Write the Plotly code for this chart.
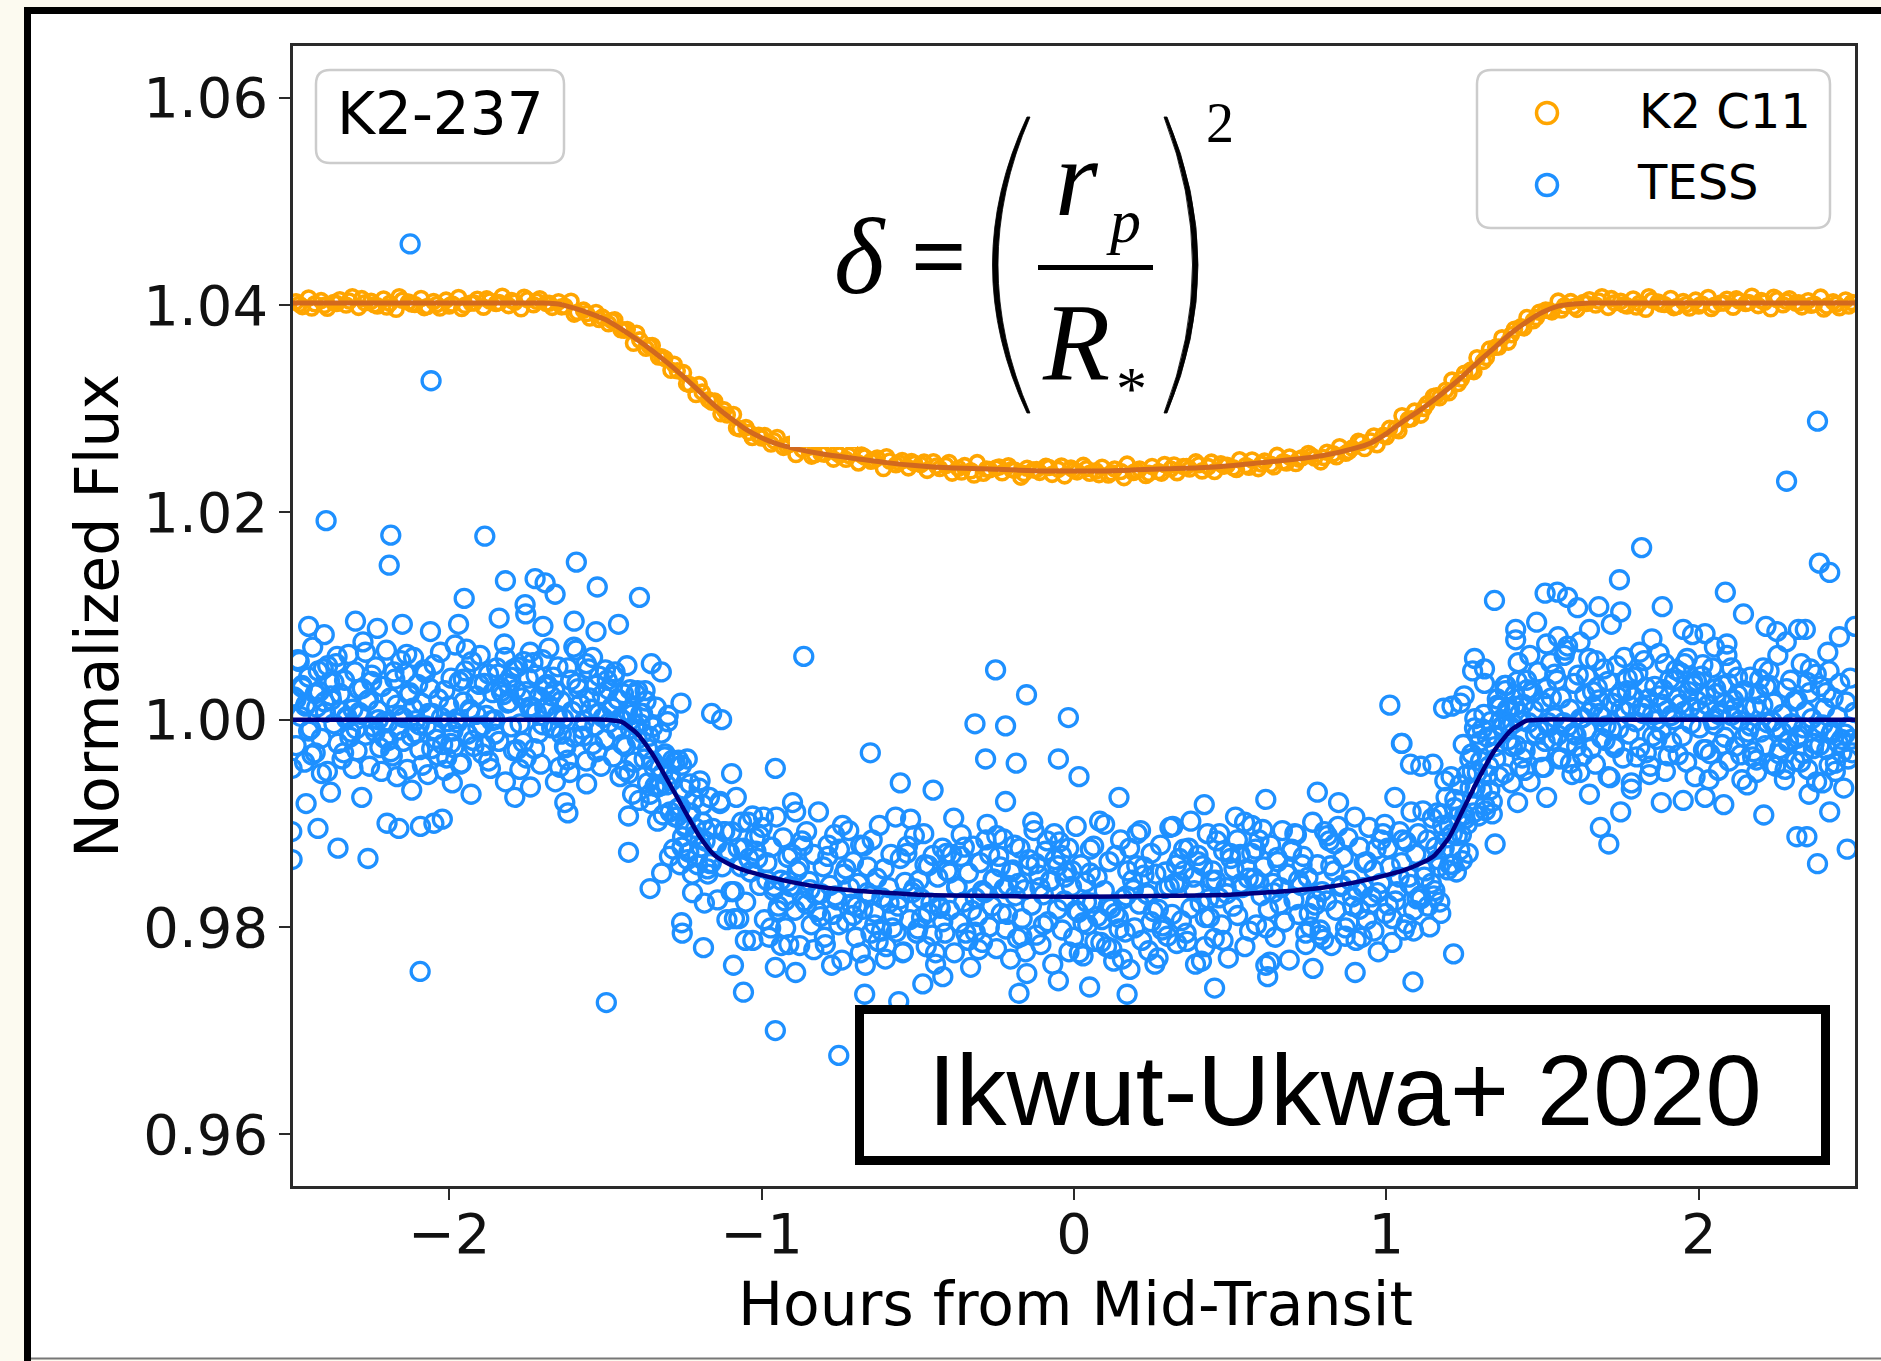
import plotly.graph_objects as go

# ---------------------------------------------------------------- data
# K2 Campaign 11 photometry (offset by +0.04), hours from mid-transit vs flux
k2_obs_a = [(-2.49,1.04032),(-2.47,1.03985),(-2.45,1.04068),(-2.43,1.04013),(-2.41,1.04043),(-2.39,1.03969),(-2.37,1.04025),(-2.35,1.04051),(-2.33,1.04001),(-2.31,1.04080),
(-2.29,1.03978),(-2.27,1.04022),(-2.25,1.04037),(-2.23,1.03992),(-2.21,1.04059),(-2.19,1.04017),(-2.17,1.03960),(-2.15,1.04046),(-2.13,1.04029),(-2.11,1.04006),
(-2.09,1.04064),(-2.07,1.03987),(-2.05,1.04035),(-2.03,1.03972),(-2.01,1.04048),(-1.99,1.04011),(-1.97,1.04073),(-1.95,1.03998),(-1.93,1.04020),(-1.91,1.04056),
(-1.89,1.03980),(-1.87,1.04039),(-1.85,1.04015),(-1.83,1.04085),(-1.81,1.03995),(-1.79,1.04028),(-1.77,1.03965),(-1.75,1.04053),(-1.73,1.04003),(-1.71,1.04061),
(-1.69,1.04017),(-1.67,1.03978),(-1.65,1.04032),(-1.63,1.03988),(-1.61,1.04037),(-1.59,1.03930),(-1.57,1.03951),(-1.55,1.03875),(-1.53,1.03929),(-1.51,1.03884),
(-1.49,1.03820),(-1.47,1.03857),(-1.45,1.03762),(-1.43,1.03765),(-1.41,1.03632),(-1.39,1.03664),(-1.37,1.03584),(-1.35,1.03610),(-1.33,1.03499),(-1.31,1.03484),
(-1.29,1.03371),(-1.27,1.03366),(-1.25,1.03348),(-1.23,1.03234),(-1.21,1.03137),(-1.19,1.03160),(-1.17,1.03086),(-1.15,1.03073),(-1.13,1.02951),(-1.11,1.02940),
(-1.09,1.02945),(-1.07,1.02806),(-1.05,1.02818),(-1.03,1.02723),(-1.01,1.02743),(-0.99,1.02740),(-0.97,1.02659),(-0.95,1.02722),(-0.93,1.02627),(-0.91,1.02657),
(-0.89,1.02558),(-0.87,1.02607),(-0.85,1.02627),(-0.83,1.02556),(-0.81,1.02568),(-0.79,1.02606),(-0.77,1.02514),(-0.75,1.02553),(-0.73,1.02512),(-0.71,1.02572),
(-0.69,1.02477),(-0.67,1.02535),(-0.65,1.02494),(-0.63,1.02524),(-0.61,1.02423),(-0.59,1.02496),(-0.57,1.02460),(-0.55,1.02500),(-0.53,1.02429),(-0.51,1.02471),
(-0.49,1.02462),(-0.47,1.02405),(-0.45,1.02488),(-0.43,1.02423),(-0.41,1.02453),(-0.39,1.02379),(-0.37,1.02425),(-0.35,1.02451),(-0.33,1.02401),(-0.31,1.02480),
(-0.29,1.02378),(-0.27,1.02412),(-0.25,1.02427),(-0.23,1.02382),(-0.21,1.02449),(-0.19,1.02407),(-0.17,1.02340),(-0.15,1.02426),(-0.13,1.02409),(-0.11,1.02386),
(-0.09,1.02444),(-0.07,1.02367),(-0.05,1.02415),(-0.03,1.02352),(-0.01,1.02428),(0.01,1.02391),(0.03,1.02453),(0.05,1.02378),(0.07,1.02400),(0.09,1.02436),
(0.11,1.02360),(0.13,1.02419),(0.15,1.02395),(0.17,1.02465),(0.19,1.02385),(0.21,1.02418),(0.23,1.02355),(0.25,1.02443),(0.27,1.02393),(0.29,1.02461),
(0.31,1.02419),(0.33,1.02383),(0.35,1.02442),(0.37,1.02418),(0.39,1.02487),(0.41,1.02400),(0.43,1.02441),(0.45,1.02395),(0.47,1.02469),(0.49,1.02454),
(0.51,1.02430),(0.53,1.02507),(0.55,1.02452),(0.57,1.02505),(0.59,1.02422),(0.61,1.02494),(0.63,1.02464),(0.65,1.02550),(0.67,1.02489),(0.69,1.02534),
(0.71,1.02471),(0.73,1.02526),(0.75,1.02568),(0.77,1.02524),(0.79,1.02487),(0.81,1.02580),(0.83,1.02566),(0.85,1.02633),(0.87,1.02571),(0.89,1.02620),
(0.91,1.02685),(0.93,1.02616),(0.95,1.02688),(0.97,1.02653),(0.99,1.02743),(1.01,1.02810),(1.03,1.02809),(1.05,1.02932),(1.07,1.02897),(1.09,1.02977),
(1.11,1.02938),(1.13,1.03047),(1.15,1.03117),(1.17,1.03106),(1.19,1.03178),(1.21,1.03276),(1.23,1.03244),(1.25,1.03343),(1.27,1.03372),(1.29,1.03492),
(1.31,1.03457),(1.33,1.03575),(1.35,1.03594),(1.37,1.03684),(1.39,1.03643),(1.41,1.03766),(1.43,1.03790),(1.45,1.03880),(1.47,1.03849),(1.49,1.03931),
(1.51,1.03952),(1.53,1.03935),(1.55,1.04038),(1.57,1.03993),(1.59,1.04033),(1.61,1.03959),(1.63,1.04025),(1.65,1.04051),(1.67,1.04001),(1.69,1.04080),
(1.71,1.03978),(1.73,1.04022),(1.75,1.04037),(1.77,1.03992),(1.79,1.04059),(1.81,1.04017),(1.83,1.03960),(1.85,1.04046),(1.87,1.04029),(1.89,1.04006),
(1.91,1.04064),(1.93,1.03987),(1.95,1.04035),(1.97,1.03972),(1.99,1.04048),(2.01,1.04011),(2.03,1.04073),(2.05,1.03998),(2.07,1.04020),(2.09,1.04056),
(2.11,1.03980),(2.13,1.04039),(2.15,1.04015),(2.17,1.04085),(2.19,1.03995),(2.21,1.04028),(2.23,1.03965),(2.25,1.04053),(2.27,1.04003),(2.29,1.04061),
(2.31,1.04019),(2.33,1.03983),(2.35,1.04042),(2.37,1.04008),(2.39,1.04077),(2.41,1.03990),(2.43,1.04031),(2.45,1.03975),(2.47,1.04049),(2.49,1.04024)]

k2_obs_b = [(-2.48,1.04008),(-2.44,1.03972),(-2.40,1.03997),(-2.36,1.04015),(-2.32,1.04039),(-2.28,1.04062),(-2.24,1.04003),(-2.20,1.03981),(-2.16,1.04080),(-2.12,1.04011),
(-2.08,1.03976),(-2.04,1.04005),(-2.00,1.03992),(-1.96,1.03967),(-1.92,1.04020),(-1.88,1.04060),(-1.84,1.04025),(-1.80,1.04045),(-1.76,1.04075),(-1.72,1.04037),
(-1.68,1.04018),(-1.64,1.03983),(-1.60,1.03913),(-1.56,1.03919),(-1.52,1.03861),(-1.48,1.03850),(-1.44,1.03758),(-1.40,1.03728),(-1.36,1.03606),(-1.32,1.03501),
(-1.28,1.03429),(-1.24,1.03242),(-1.20,1.03233),(-1.16,1.03064),(-1.12,1.02989),(-1.08,1.02815),(-1.04,1.02772),(-1.00,1.02717),(-0.96,1.02691),(-0.92,1.02643),
(-0.88,1.02662),(-0.84,1.02543),(-0.80,1.02562),(-0.76,1.02576),(-0.72,1.02548),(-0.68,1.02553),(-0.64,1.02506),(-0.60,1.02537),(-0.56,1.02480),(-0.52,1.02491),
(-0.48,1.02485),(-0.44,1.02447),(-0.40,1.02481),(-0.36,1.02389),(-0.32,1.02360),(-0.28,1.02418),(-0.24,1.02438),(-0.20,1.02413),(-0.16,1.02374),(-0.12,1.02414),
(-0.08,1.02433),(-0.04,1.02448),(0.00,1.02409),(0.04,1.02422),(0.08,1.02364),(0.12,1.02381),(0.16,1.02335),(0.20,1.02402),(0.24,1.02377),(0.28,1.02379),
(0.32,1.02457),(0.36,1.02442),(0.40,1.02460),(0.44,1.02485),(0.48,1.02446),(0.52,1.02413),(0.56,1.02435),(0.60,1.02466),(0.64,1.02440),(0.68,1.02476),
(0.72,1.02514),(0.76,1.02546),(0.80,1.02530),(0.84,1.02537),(0.88,1.02590),(0.92,1.02674),(0.96,1.02737),(1.00,1.02730),(1.04,1.02788),(1.08,1.02903),
(1.12,1.03003),(1.16,1.03124),(1.20,1.03154),(1.24,1.03287),(1.28,1.03358),(1.32,1.03495),(1.36,1.03596),(1.40,1.03714),(1.44,1.03780),(1.48,1.03879),
(1.52,1.03948),(1.56,1.03952),(1.60,1.03987),(1.64,1.04015),(1.68,1.04039),(1.72,1.04062),(1.76,1.04003),(1.80,1.03981),(1.84,1.04080),(1.88,1.04011),
(1.92,1.03976),(1.96,1.04005),(2.00,1.03992),(2.04,1.03967),(2.08,1.04020),(2.12,1.04060),(2.16,1.04025),(2.20,1.04045),(2.24,1.04075),(2.28,1.04037),
(2.32,1.04021),(2.36,1.03998),(2.40,1.03963),(2.44,1.04009),(2.48,1.03991)]

# K2 best-fit transit model
k2_model_hours = [-2.5, -1.75, -1.70, -1.65, -1.60, -1.55, -1.50, -1.45, -1.40, -1.35,
                  -1.30, -1.25, -1.20, -1.15, -1.10, -1.05, -1.00, -0.95, -0.90, -0.80,
                  -0.70, -0.60, -0.50, -0.40, -0.30, -0.20, -0.10, 0.0, 0.10, 0.20,
                  0.30, 0.40, 0.50, 0.60, 0.70, 0.80, 0.90, 0.95, 1.00, 1.05,
                  1.10, 1.15, 1.20, 1.25, 1.30, 1.35, 1.40, 1.45, 1.50, 1.55,
                  1.60, 1.65, 1.70, 2.5]
k2_model_flux = [1.0402, 1.0402, 1.0402, 1.0401, 1.0397, 1.0392, 1.0386, 1.0377, 1.0367, 1.0356,
                 1.0344, 1.0331, 1.0317, 1.0303, 1.0291, 1.0280, 1.0272, 1.0266, 1.0262, 1.0256,
                 1.0252, 1.0248, 1.0245, 1.0243, 1.0242, 1.0241, 1.0240, 1.0240, 1.0240, 1.0241,
                 1.0242, 1.0243, 1.0245, 1.0248, 1.0251, 1.0255, 1.0262, 1.0267, 1.0276, 1.0287,
                 1.0297, 1.0308, 1.0320, 1.0333, 1.0347, 1.0360, 1.0373, 1.0384, 1.0393, 1.0399,
                 1.0401, 1.0402, 1.0402, 1.0402]

# TESS photometry: pre-transit baseline
tess_pre_a = [(-2.497,1.0022),(-2.490,0.9975),(-2.484,1.0058),(-2.476,1.0003),(-2.471,1.0033),(-2.463,0.9959),(-2.458,1.0015),(-2.450,1.0041),(-2.443,0.9991),(-2.437,1.0070),
(-2.429,0.9968),(-2.424,1.0012),(-2.416,1.0027),(-2.410,0.9982),(-2.403,1.0049),(-2.396,1.0007),(-2.390,0.9950),(-2.382,1.0036),(-2.377,1.0019),(-2.369,0.9996),
(-2.362,1.0054),(-2.356,0.9977),(-2.349,1.0025),(-2.343,0.9962),(-2.335,1.0038),(-2.329,1.0001),(-2.322,1.0063),(-2.316,0.9988),(-2.308,1.0010),(-2.302,1.0046),
(-2.295,0.9970),(-2.289,1.0029),(-2.281,1.0005),(-2.276,1.0075),(-2.268,0.9985),(-2.262,1.0018),(-2.255,0.9955),(-2.248,1.0043),(-2.242,0.9993),(-2.235,1.0051),
(-2.228,1.0009),(-2.222,0.9973),(-2.215,1.0032),(-2.208,0.9998),(-2.201,1.0067),(-2.195,0.9980),(-2.188,1.0021),(-2.182,0.9965),(-2.174,1.0039),(-2.168,1.0014),
(-2.161,0.9990),(-2.155,1.0057),(-2.147,1.0002),(-2.141,1.0045),(-2.134,0.9952),(-2.128,1.0024),(-2.121,0.9984),(-2.114,1.0060),(-2.108,0.9999),(-2.101,1.0034),
(-2.094,0.9971),(-2.088,1.0016),(-2.081,1.0048),(-2.074,0.9994),(-2.068,0.9947),(-2.061,1.0030),(-2.054,1.0006),(-2.048,1.0053),(-2.041,0.9981),(-2.034,1.0020),
(-2.028,1.0065),(-2.021,0.9976),(-2.014,1.0028),(-2.008,0.9963),(-2.001,1.0013),(-1.994,1.0040),(-1.988,0.9989),(-1.981,1.0072),(-1.974,0.9997),(-1.968,1.0037),
(-1.961,0.9958),(-1.954,1.0017),(-1.948,1.0047),(-1.941,0.9986),(-1.934,1.0008),(-1.928,1.0056),(-1.921,0.9974),(-1.914,1.0023),(-1.908,0.9992),(-1.901,1.0062),
(-1.894,0.9967),(-1.888,1.0035),(-1.881,1.0004),(-1.874,1.0044),(-1.868,0.9953),(-1.861,1.0026),(-1.854,1.0000),(-1.848,1.0050),(-1.841,0.9979),(-1.834,1.0031),
(-1.827,1.0024),(-1.821,1.0060),(-1.814,1.0035),(-1.807,1.0017),(-1.801,0.9993),(-1.794,0.9970),(-1.787,1.0029),(-1.781,1.0051),(-1.774,0.9952),(-1.767,1.0021),
(-1.761,1.0056),(-1.754,1.0027),(-1.747,1.0040),(-1.741,1.0065),(-1.734,1.0012),(-1.727,0.9972),(-1.721,1.0007),(-1.714,0.9987),(-1.707,0.9957),(-1.701,0.9995),
(-1.694,1.0011),(-1.687,1.0034),(-1.681,1.0069),(-1.674,1.0023),(-1.667,1.0041),(-1.661,0.9992),(-1.654,1.0004),(-1.647,0.9954),(-1.641,0.9986),(-1.634,1.0001),
(-1.627,0.9973),(-1.621,1.0050),(-1.614,0.9949),(-1.607,1.0008),(-1.601,0.9983),(-1.594,1.0067),(-1.587,1.0030),(-1.581,1.0015),(-1.574,0.9991),(-1.567,0.9999),
(-1.561,0.9960),(-1.554,1.0049),(-1.547,1.0010),(-1.541,0.9976),(-1.534,0.9994),(-1.527,0.9969),(-1.521,1.0006),(-1.514,0.9955),(-1.507,1.0002),(-1.501,0.9981),
(-1.494,1.0038),(-1.488,0.9997)]

tess_pre_b = [(-2.490,1.0020),(-2.480,1.0056),(-2.470,1.0031),(-2.460,1.0013),(-2.450,0.9989),(-2.439,0.9966),(-2.429,1.0025),(-2.419,1.0047),(-2.409,0.9948),(-2.399,1.0017),
(-2.389,1.0052),(-2.379,1.0023),(-2.369,1.0036),(-2.359,1.0061),(-2.349,1.0008),(-2.338,0.9968),(-2.328,1.0003),(-2.318,0.9983),(-2.308,0.9953),(-2.298,0.9991),
(-2.288,1.0007),(-2.278,1.0030),(-2.268,1.0065),(-2.258,1.0019),(-2.248,1.0037),(-2.237,0.9988),(-2.227,1.0000),(-2.217,0.9950),(-2.207,0.9982),(-2.197,0.9997),
(-2.187,0.9969),(-2.177,1.0046),(-2.167,0.9945),(-2.157,1.0004),(-2.147,0.9979),(-2.136,1.0063),(-2.126,1.0026),(-2.116,1.0011),(-2.106,0.9987),(-2.096,0.9995),
(-2.086,0.9956),(-2.076,1.0045),(-2.066,1.0006),(-2.056,0.9972),(-2.046,0.9990),(-2.035,0.9965),(-2.025,1.0002),(-2.015,0.9951),(-2.005,0.9998),(-1.995,0.9977),
(-1.985,0.9973),(-1.975,1.0001),(-1.965,0.9957),(-1.955,1.0039),(-1.945,1.0068),(-1.934,1.0010),(-1.924,0.9980),(-1.914,1.0005),(-1.904,1.0034),(-1.894,0.9994),
(-1.884,0.9975),(-1.874,0.9960),(-1.864,0.9999),(-1.854,0.9986),(-1.844,1.0044),(-1.833,1.0027),(-1.823,1.0073),(-1.813,1.0016),(-1.803,1.0041),(-1.793,1.0049),
(-1.783,0.9971),(-1.773,0.9996),(-1.763,0.9978),(-1.753,0.9963),(-1.743,1.0012),(-1.732,1.0055),(-1.722,1.0043),(-1.712,1.0022),(-1.702,1.0058),(-1.692,1.0032),
(-1.682,1.0014),(-1.672,0.9992),(-1.662,1.0028),(-1.652,1.0051),(-1.642,1.0018),(-1.631,0.9974),(-1.621,0.9961),(-1.611,1.0038),(-1.601,1.0070),(-1.591,1.0035),
(-1.581,1.0015),(-1.571,0.9984),(-1.561,1.0054),(-1.551,1.0021),(-1.541,1.0060),(-1.530,1.0033),(-1.520,1.0042),(-1.510,1.0024),(-1.500,1.0048),(-1.490,1.0029)]

tess_pre_c = [(-2.394,1.0192),(-2.187,1.0178),(-2.192,1.0149),(-1.886,1.0177),(-1.593,1.0152),(-1.820,1.0134),(-1.725,1.0136),(-1.693,1.0132),(-1.661,1.0121),(-1.757,1.0111),
(-1.755,1.0102),(-1.526,1.0128),(-1.952,1.0117),(-1.458,1.0092),(-2.125,1.0459),(-2.058,1.0327),(-2.458,0.9919),(-2.420,0.9895),(-2.356,0.9876),(-2.260,0.9866),
(-2.199,0.9900),(-2.161,0.9895),(-2.092,0.9897),(-2.049,0.9900),(-2.022,0.9904),(-2.093,0.9757),(-1.497,0.9727),(-1.990,0.9939),(-1.820,0.9940),(-1.790,0.9925),
(-1.660,0.9940),(-1.630,0.9920),(-1.620,0.9910),(-2.450,1.0090),(-2.300,1.0095),(-2.230,1.0088),(-2.060,1.0085),(-1.970,1.0092),(-1.840,1.0098),(-1.700,1.0090),
(-1.600,1.0095),(-1.530,1.0085),(-2.400,1.0082),(-2.150,1.0092),(-2.380,0.9930),(-2.280,0.9925),(-2.120,0.9932),(-1.930,0.9928),(-1.740,0.9935),(-1.560,0.9938),
(-2.503,0.9953),(-2.504,0.9892),(-2.503,0.9865)]

# TESS photometry: ingress
tess_ing_a = [(-1.480,1.0012),(-1.475,0.9964),(-1.469,1.0046),(-1.464,0.9990),(-1.458,1.0019),(-1.453,0.9945),(-1.447,1.0000),(-1.442,1.0025),(-1.436,0.9974),(-1.431,1.0052),
(-1.425,0.9948),(-1.420,0.9991),(-1.414,1.0005),(-1.409,0.9959),(-1.403,1.0025),(-1.398,0.9981),(-1.392,0.9922),(-1.387,1.0006),(-1.381,0.9987),(-1.376,0.9962),
(-1.370,1.0018),(-1.365,0.9939),(-1.359,0.9984),(-1.354,0.9919),(-1.348,0.9993),(-1.343,0.9953),(-1.337,1.0012),(-1.332,0.9935),(-1.326,0.9954),(-1.321,0.9987),
(-1.315,0.9908),(-1.310,0.9964),(-1.304,0.9937),(-1.299,1.0004),(-1.293,0.9911),(-1.288,0.9941),(-1.282,0.9875),(-1.277,0.9959),(-1.271,0.9906),(-1.266,0.9961),
(-1.260,0.9916),(-1.255,0.9877),(-1.249,0.9933),(-1.244,0.9896),(-1.238,0.9962),(-1.233,0.9872),(-1.227,0.9910),(-1.222,0.9851),(-1.216,0.9923),(-1.211,0.9895),
(-1.205,0.9869),(-1.200,0.9934),(-1.194,0.9877),(-1.189,0.9918),(-1.183,0.9823),(-1.178,0.9893),(-1.172,0.9851),(-1.167,0.9925),(-1.161,0.9862),(-1.156,0.9895)]

tess_ing_b = [(-1.477,1.0011),(-1.472,1.0042),(-1.461,1.0020),(-1.453,1.0001),(-1.445,0.9976),(-1.437,0.9951),(-1.429,1.0008),(-1.421,1.0029),(-1.413,0.9928),(-1.405,0.9995),
(-1.397,1.0028),(-1.389,0.9996),(-1.381,1.0006),(-1.373,1.0028),(-1.365,0.9972),(-1.357,0.9928),(-1.349,0.9960),(-1.341,0.9936),(-1.333,0.9902),(-1.325,0.9936),
(-1.317,0.9948),(-1.309,0.9967),(-1.301,0.9998),(-1.293,0.9947),(-1.285,0.9961),(-1.277,0.9906),(-1.269,0.9914),(-1.261,0.9860),(-1.253,0.9887),(-1.245,0.9898),
(-1.237,0.9865),(-1.229,0.9938),(-1.221,0.9833),(-1.213,0.9888),(-1.205,0.9860),(-1.197,0.9941),(-1.189,0.9901),(-1.181,0.9883),(-1.173,0.9856),(-1.165,0.9861)]

tess_ing_c = [(-1.391,1.0118),(-1.353,1.0054),(-1.321,1.0046),(-1.258,1.0016),(-1.160,1.0006),(-1.128,1.0000),(-1.096,0.9948),(-1.256,0.9956),(-1.426,0.9872),(-1.357,0.9837),
(-1.320,0.9852),(-1.295,0.9868),(-1.256,0.9804),(-1.254,0.9794),(-1.186,0.9780),(-1.090,0.9763),(-1.058,0.9737),(-0.956,0.9700),(-0.956,0.9761),(-0.891,0.9756),
(-0.913,0.9783),(-1.426,0.9907),(-0.956,0.9953),(-0.865,1.0061)]

# TESS photometry: in transit
tess_in_a = [(-1.148,0.9880),(-1.141,0.9826),(-1.133,0.9921),(-1.126,0.9858),(-1.118,0.9892),(-1.111,0.9807),(-1.103,0.9872),(-1.096,0.9892),(-1.088,0.9834),(-1.081,0.9925),
(-1.073,0.9808),(-1.066,0.9858),(-1.058,0.9876),(-1.051,0.9824),(-1.043,0.9901),(-1.036,0.9853),(-1.028,0.9787),(-1.021,0.9886),(-1.013,0.9866),(-1.006,0.9840),
(-0.998,0.9896),(-0.991,0.9807),(-0.983,0.9862),(-0.976,0.9790),(-0.968,0.9877),(-0.961,0.9835),(-0.953,0.9906),(-0.946,0.9820),(-0.938,0.9845),(-0.931,0.9886),
(-0.923,0.9799),(-0.916,0.9867),(-0.908,0.9839),(-0.901,0.9920),(-0.893,0.9816),(-0.886,0.9854),(-0.878,0.9782),(-0.871,0.9883),(-0.863,0.9825),(-0.856,0.9892),
(-0.848,0.9844),(-0.841,0.9802),(-0.833,0.9870),(-0.826,0.9831),(-0.818,0.9911),(-0.811,0.9810),(-0.803,0.9858),(-0.796,0.9783),(-0.788,0.9868),(-0.781,0.9840),
(-0.773,0.9812),(-0.766,0.9889),(-0.758,0.9826),(-0.751,0.9875),(-0.743,0.9768),(-0.736,0.9851),(-0.728,0.9805),(-0.721,0.9893),(-0.713,0.9822),(-0.706,0.9863),
(-0.698,0.9790),(-0.691,0.9842),(-0.683,0.9879),(-0.676,0.9817),(-0.668,0.9763),(-0.661,0.9858),(-0.653,0.9830),(-0.646,0.9884),(-0.638,0.9802),(-0.631,0.9847),
(-0.623,0.9898),(-0.616,0.9796),(-0.608,0.9856),(-0.601,0.9781),(-0.593,0.9838),(-0.586,0.9870),(-0.578,0.9811),(-0.571,0.9906),(-0.563,0.9820),(-0.556,0.9866),
(-0.548,0.9775),(-0.541,0.9843),(-0.533,0.9878),(-0.526,0.9807),(-0.518,0.9833),(-0.511,0.9888),(-0.503,0.9794),(-0.496,0.9845),(-0.488,0.9809),(-0.481,0.9890),
(-0.473,0.9781),(-0.466,0.9859),(-0.458,0.9823),(-0.451,0.9869),(-0.443,0.9764),(-0.436,0.9848),(-0.428,0.9818),(-0.421,0.9876),(-0.413,0.9794),(-0.406,0.9854),
(-0.398,0.9816),(-0.391,0.9870),(-0.383,0.9775),(-0.376,0.9838),(-0.368,0.9804),(-0.361,0.9889),(-0.353,0.9824),(-0.346,0.9794),(-0.338,0.9852),(-0.331,0.9761),
(-0.323,0.9878),(-0.316,0.9828),(-0.308,0.9810),(-0.301,0.9862),(-0.293,0.9785),(-0.286,0.9833),(-0.278,0.9899),(-0.271,0.9800),(-0.263,0.9820),(-0.256,0.9846),
(-0.248,0.9779),(-0.241,0.9868),(-0.233,0.9813),(-0.226,0.9885),(-0.218,0.9798),(-0.211,0.9840),(-0.203,0.9769),(-0.196,0.9855),(-0.188,0.9830),(-0.181,0.9789),
(-0.173,0.9876),(-0.166,0.9808),(-0.158,0.9836),(-0.151,0.9755),(-0.143,0.9859),(-0.136,0.9821),(-0.128,0.9893),(-0.121,0.9792),(-0.113,0.9850),(-0.106,0.9783),
(-0.098,0.9831),(-0.091,0.9873),(-0.083,0.9805),(-0.076,0.9844),(-0.068,0.9764),(-0.061,0.9865),(-0.053,0.9817),(-0.046,0.9882),(-0.038,0.9797),(-0.031,0.9825),
(-0.023,0.9853),(-0.016,0.9776),(-0.008,0.9839),(-0.001,0.9790),(0.007,0.9897),(0.014,0.9814),(0.022,0.9860),(0.029,0.9772),(0.037,0.9843),(0.044,0.9802),
(0.052,0.9875),(0.059,0.9823),(0.067,0.9786),(0.074,0.9848),(0.082,0.9902),(0.089,0.9807),(0.097,0.9835),(0.104,0.9781),(0.112,0.9863),(0.119,0.9818),
(0.127,0.9767),(0.134,0.9869),(0.142,0.9809),(0.149,0.9884),(0.157,0.9827),(0.164,0.9795),(0.172,0.9854),(0.179,0.9759),(0.187,0.9845),(0.194,0.9799),
(0.202,0.9890),(0.209,0.9822),(0.217,0.9787),(0.224,0.9858),(0.232,0.9832),(0.239,0.9777),(0.247,0.9871),(0.254,0.9815),(0.262,0.9851),(0.269,0.9770),
(0.277,0.9879),(0.284,0.9801),(0.292,0.9837),(0.299,0.9791),(0.307,0.9896),(0.314,0.9812),(0.322,0.9842),(0.329,0.9784),(0.337,0.9866),(0.344,0.9806),
(0.352,0.9854),(0.359,0.9794),(0.367,0.9876),(0.374,0.9818),(0.382,0.9848),(0.389,0.9764),(0.397,0.9869),(0.404,0.9823),(0.412,0.9859),(0.419,0.9781),
(0.427,0.9890),(0.434,0.9809),(0.442,0.9845),(0.449,0.9789),(0.457,0.9883),(0.464,0.9828),(0.472,0.9802),(0.479,0.9873),(0.487,0.9838),(0.494,0.9770),
(0.502,0.9866),(0.509,0.9820),(0.517,0.9906),(0.524,0.9811),(0.532,0.9870),(0.539,0.9838),(0.547,0.9781),(0.554,0.9856),(0.562,0.9796),(0.569,0.9898),
(0.577,0.9847),(0.584,0.9802),(0.592,0.9884),(0.599,0.9830),(0.607,0.9858),(0.614,0.9763),(0.622,0.9817),(0.629,0.9879),(0.637,0.9842),(0.644,0.9790),
(0.652,0.9863),(0.659,0.9822),(0.667,0.9893),(0.674,0.9805),(0.682,0.9851),(0.689,0.9768),(0.697,0.9875),(0.704,0.9826),(0.712,0.9889),(0.719,0.9812),
(0.727,0.9840),(0.734,0.9868),(0.742,0.9783),(0.749,0.9848),(0.757,0.9800),(0.764,0.9901),(0.772,0.9821),(0.779,0.9860),(0.787,0.9792),(0.794,0.9834),
(0.802,0.9892),(0.809,0.9825),(0.817,0.9883),(0.824,0.9782),(0.832,0.9854),(0.839,0.9816),(0.847,0.9920),(0.854,0.9839),(0.862,0.9867),(0.869,0.9799),
(0.877,0.9886),(0.884,0.9845),(0.892,0.9820),(0.899,0.9906),(0.907,0.9835),(0.914,0.9877),(0.922,0.9790),(0.929,0.9862),(0.937,0.9807),(0.944,0.9896),
(0.952,0.9829),(0.959,0.9855),(0.967,0.9875),(0.974,0.9776),(0.982,0.9842),(0.989,0.9890),(0.997,0.9813),(1.004,0.9876),(1.012,0.9858),(1.019,0.9808),
(1.027,0.9925),(1.034,0.9834),(1.042,0.9892),(1.049,0.9862),(1.057,0.9797),(1.064,0.9882),(1.072,0.9848),(1.079,0.9911),(1.087,0.9816),(1.094,0.9870),
(1.102,0.9890),(1.109,0.9830),(1.117,0.9912),(1.124,0.9854),(1.132,0.9884),(1.139,0.9800),(1.147,0.9905)]

tess_in_b = [(-1.144,0.9880),(-1.133,0.9919),(-1.121,0.9892),(-1.110,0.9872),(-1.098,0.9834),(-1.087,0.9808),(-1.075,0.9876),(-1.064,0.9901),(-1.052,0.9787),(-1.041,0.9866),
(-1.029,0.9907),(-1.018,0.9873),(-1.006,0.9888),(-0.994,0.9906),(-0.983,0.9845),(-0.971,0.9799),(-0.960,0.9839),(-0.948,0.9816),(-0.937,0.9782),(-0.925,0.9825),
(-0.914,0.9844),(-0.902,0.9870),(-0.891,0.9911),(-0.879,0.9858),(-0.868,0.9878),(-0.856,0.9822),(-0.845,0.9836),(-0.833,0.9778),(-0.822,0.9815),(-0.810,0.9832),
(-0.799,0.9790),(-0.787,0.9879),(-0.776,0.9763),(-0.764,0.9830),(-0.753,0.9802),(-0.741,0.9898),(-0.730,0.9856),(-0.718,0.9838),(-0.707,0.9811),(-0.696,0.9820),
(-0.684,0.9775),(-0.673,0.9878),(-0.661,0.9833),(-0.650,0.9794),(-0.638,0.9814),(-0.627,0.9786),(-0.615,0.9828),(-0.604,0.9769),(-0.592,0.9823),(-0.581,0.9799),
(-0.569,0.9795),(-0.558,0.9827),(-0.546,0.9776),(-0.535,0.9871),(-0.523,0.9904),(-0.512,0.9837),(-0.500,0.9798),(-0.489,0.9827),(-0.477,0.9860),(-0.466,0.9814),
(-0.454,0.9792),(-0.443,0.9775),(-0.431,0.9820),(-0.420,0.9805),(-0.408,0.9871),(-0.397,0.9852),(-0.385,0.9905),(-0.374,0.9839),(-0.362,0.9868),(-0.351,0.9877),
(-0.339,0.9787),(-0.328,0.9816),(-0.316,0.9795),(-0.305,0.9778),(-0.293,0.9835),(-0.282,0.9884),(-0.270,0.9870),(-0.259,0.9846),(-0.247,0.9888),(-0.236,0.9858),
(-0.224,0.9837),(-0.213,0.9812),(-0.201,0.9853),(-0.190,0.9879),(-0.178,0.9842),(-0.167,0.9791),(-0.155,0.9776),(-0.144,0.9865),(-0.132,0.9901),(-0.121,0.9861),
(-0.109,0.9838),(-0.098,0.9802),(-0.086,0.9883),(-0.075,0.9845),(-0.063,0.9890),(-0.052,0.9859),(-0.040,0.9869),(-0.029,0.9848),(-0.017,0.9876),(-0.006,0.9854),
(0.006,0.9816),(0.017,0.9775),(0.029,0.9804),(0.040,0.9824),(0.052,0.9852),(0.063,0.9878),(0.075,0.9810),(0.086,0.9785),(0.098,0.9899),(0.109,0.9820),
(0.121,0.9779),(0.132,0.9813),(0.144,0.9798),(0.155,0.9769),(0.167,0.9830),(0.178,0.9876),(0.190,0.9836),(0.201,0.9859),(0.213,0.9893),(0.224,0.9850),
(0.236,0.9831),(0.247,0.9805),(0.259,0.9764),(0.270,0.9817),(0.282,0.9797),(0.293,0.9853),(0.305,0.9839),(0.316,0.9897),(0.328,0.9860),(0.339,0.9843),
(0.351,0.9875),(0.362,0.9786),(0.374,0.9902),(0.385,0.9835),(0.397,0.9863),(0.408,0.9767),(0.420,0.9809),(0.431,0.9827),(0.443,0.9854),(0.454,0.9845),
(0.466,0.9890),(0.477,0.9787),(0.489,0.9832),(0.500,0.9871),(0.512,0.9856),(0.523,0.9884),(0.535,0.9842),(0.546,0.9901),(0.558,0.9847),(0.569,0.9871),
(0.581,0.9875),(0.592,0.9843),(0.604,0.9894),(0.615,0.9799),(0.627,0.9766),(0.638,0.9833),(0.650,0.9867),(0.661,0.9838),(0.673,0.9805),(0.684,0.9851),
(0.696,0.9873),(0.707,0.9890),(0.719,0.9845),(0.730,0.9860),(0.742,0.9794),(0.753,0.9813),(0.765,0.9760),(0.776,0.9826),(0.788,0.9797),(0.799,0.9788),
(0.811,0.9888),(0.822,0.9859),(0.834,0.9880),(0.845,0.9897),(0.857,0.9840),(0.868,0.9791),(0.880,0.9805),(0.891,0.9829),(0.903,0.9787),(0.914,0.9817),
(0.926,0.9838),(0.937,0.9863),(0.949,0.9822),(0.960,0.9796),(0.972,0.9833),(0.983,0.9884),(0.995,0.9899),(1.006,0.9821),(1.018,0.9785),(1.029,0.9825),
(1.041,0.9848),(1.052,0.9884),(1.064,0.9803),(1.075,0.9841),(1.087,0.9796),(1.098,0.9827),(1.110,0.9827),(1.121,0.9848),(1.133,0.9820),(1.144,0.9842)]

tess_in_c = [(-0.251,1.0048),(-0.152,1.0024),(-0.317,0.9996),(-0.219,0.9994),(-0.018,1.0002),(-0.652,0.9968),(-0.283,0.9962),(-0.185,0.9958),(-0.050,0.9962),(0.016,0.9945),
(-0.556,0.9939),(-0.451,0.9932),(-0.219,0.9921),(0.144,0.9925),(0.417,0.9918),(0.614,0.9923),(0.779,0.9930),(-0.753,0.9676),(-0.561,0.9728),(-0.670,0.9735),
(-0.484,0.9745),(-0.176,0.9736),(0.170,0.9735),(-0.420,0.9752),(-0.050,0.9748),(0.050,0.9742),(0.450,0.9741),(0.620,0.9752),(0.900,0.9756),(1.085,0.9747),
(1.215,0.9774),(1.048,0.9977)]

# TESS photometry: egress
tess_egr_a = [(1.152,0.9830),(1.158,0.9877),(1.163,0.9910),(1.169,0.9858),(1.174,0.9813),(1.180,0.9898),(1.185,0.9876),(1.191,0.9925),(1.196,0.9855),(1.202,0.9897),
(1.207,0.9945),(1.213,0.9860),(1.218,0.9915),(1.224,0.9853),(1.229,0.9906),(1.235,0.9937),(1.240,0.9889),(1.246,0.9976),(1.251,0.9904),(1.257,0.9947),
(1.262,0.9871),(1.268,0.9934),(1.273,0.9967),(1.279,0.9910),(1.284,0.9934),(1.290,0.9986),(1.295,0.9907),(1.301,0.9960),(1.306,0.9932),(1.312,1.0005),
(1.317,0.9912),(1.323,0.9983),(1.328,0.9955),(1.334,0.9998),(1.339,0.9909),(1.345,0.9985),(1.350,0.9962),(1.356,1.0014),(1.361,0.9945),(1.367,1.0000),
(1.372,0.9993),(1.378,0.9948),(1.383,1.0033),(1.389,0.9980),(1.394,1.0011),(1.400,0.9939),(1.405,0.9996),(1.411,1.0024),(1.416,0.9975),(1.422,1.0055),
(1.427,0.9954),(1.433,0.9999),(1.438,1.0015),(1.444,0.9970),(1.449,1.0038),(1.455,0.9997),(1.460,0.9940),(1.466,1.0026),(1.471,1.0009),(1.477,0.9986)]

tess_egr_b = [(1.155,0.9835),(1.163,0.9865),(1.171,0.9824),(1.179,0.9909),(1.187,0.9941),(1.195,0.9886),(1.203,0.9860),(1.211,0.9890),(1.219,0.9923),(1.227,0.9888),
(1.235,0.9874),(1.243,0.9864),(1.251,0.9908),(1.259,0.9899),(1.267,0.9962),(1.275,0.9950),(1.283,1.0001),(1.291,0.9949),(1.299,0.9979),(1.307,0.9991),
(1.315,0.9917),(1.323,0.9946),(1.331,0.9932),(1.339,0.9921),(1.347,0.9974),(1.355,1.0020),(1.363,1.0012),(1.371,0.9994),(1.379,1.0033),(1.387,1.0010),
(1.395,0.9994),(1.403,0.9974),(1.411,1.0013),(1.419,1.0037),(1.427,1.0006),(1.435,0.9963),(1.443,0.9951),(1.451,1.0029),(1.459,1.0062),(1.467,1.0027)]

# TESS photometry: post-transit baseline
tess_post_a = [(1.485,1.0046),(1.492,0.9969),(1.499,1.0017),(1.505,0.9954),(1.512,1.0030),(1.519,0.9993),(1.526,1.0055),(1.533,0.9980),(1.539,1.0002),(1.546,1.0038),
(1.553,0.9962),(1.560,1.0021),(1.567,0.9997),(1.573,1.0067),(1.580,0.9977),(1.587,1.0010),(1.594,0.9947),(1.601,1.0035),(1.607,0.9985),(1.614,1.0043),
(1.621,1.0001),(1.628,0.9965),(1.635,1.0024),(1.641,0.9990),(1.648,1.0059),(1.655,0.9972),(1.662,1.0013),(1.669,0.9957),(1.675,1.0031),(1.682,1.0006),
(1.689,0.9982),(1.696,1.0049),(1.703,0.9994),(1.709,1.0037),(1.716,0.9944),(1.723,1.0016),(1.730,0.9976),(1.737,1.0052),(1.743,0.9991),(1.750,1.0026),
(1.757,0.9963),(1.764,1.0008),(1.771,1.0040),(1.777,0.9986),(1.784,0.9939),(1.791,1.0022),(1.798,0.9998),(1.805,1.0045),(1.811,0.9973),(1.818,1.0012),
(1.825,1.0057),(1.832,0.9968),(1.839,1.0020),(1.845,0.9955),(1.852,1.0005),(1.859,1.0032),(1.866,0.9981),(1.873,1.0064),(1.879,0.9989),(1.886,1.0029),
(1.893,0.9950),(1.900,1.0009),(1.907,1.0039),(1.913,0.9978),(1.920,1.0000),(1.927,1.0048),(1.934,0.9966),(1.941,1.0015),(1.947,0.9984),(1.954,1.0054),
(1.961,0.9959),(1.968,1.0027),(1.975,0.9996),(1.981,1.0036),(1.988,0.9945),(1.995,1.0018),(2.002,0.9992),(2.009,1.0042),(2.015,0.9971),(2.022,1.0023),
(2.029,1.0014),(2.036,0.9967),(2.043,1.0050),(2.049,0.9995),(2.056,1.0025),(2.063,0.9951),(2.070,1.0007),(2.077,1.0033),(2.083,0.9983),(2.090,1.0062),
(2.097,0.9960),(2.104,1.0004),(2.111,1.0019),(2.117,0.9974),(2.124,1.0041),(2.131,0.9999),(2.138,0.9942),(2.145,1.0028),(2.151,1.0011),(2.158,0.9988),
(2.165,1.0041),(2.172,0.9964),(2.179,1.0012),(2.185,0.9949),(2.192,1.0025),(2.199,0.9988),(2.206,1.0050),(2.213,0.9975),(2.219,0.9997),(2.226,1.0033),
(2.233,0.9957),(2.240,1.0016),(2.247,0.9992),(2.253,1.0062),(2.260,0.9972),(2.267,1.0005),(2.274,0.9942),(2.281,1.0030),(2.287,0.9980),(2.294,1.0038),
(2.301,0.9996),(2.308,0.9960),(2.315,1.0019),(2.321,0.9985),(2.328,1.0054),(2.335,0.9967),(2.342,1.0008),(2.349,0.9952),(2.355,1.0026),(2.362,1.0001),
(2.369,0.9977),(2.376,1.0044),(2.383,0.9989),(2.389,1.0032),(2.396,0.9939),(2.403,1.0011),(2.410,0.9971),(2.417,1.0047),(2.423,0.9986),(2.430,1.0021),
(2.437,0.9958),(2.444,1.0003),(2.451,1.0035),(2.457,0.9981),(2.464,0.9934),(2.471,1.0017),(2.478,0.9993),(2.485,1.0040),(2.491,0.9968),(2.498,1.0007)]

tess_post_b = [(1.488,0.9990),(1.498,0.9954),(1.508,0.9979),(1.518,0.9997),(1.528,1.0021),(1.539,1.0044),(1.549,0.9985),(1.559,0.9963),(1.569,1.0062),(1.579,0.9993),
(1.589,0.9958),(1.599,0.9987),(1.609,0.9974),(1.619,0.9949),(1.629,1.0002),(1.640,1.0042),(1.650,1.0007),(1.660,1.0027),(1.670,1.0057),(1.680,1.0019),
(1.690,1.0003),(1.700,0.9980),(1.710,0.9945),(1.720,0.9991),(1.730,0.9973),(1.741,1.0022),(1.751,1.0010),(1.761,1.0060),(1.771,1.0028),(1.781,1.0013),
(1.791,1.0041),(1.801,0.9964),(1.811,1.0065),(1.821,1.0006),(1.831,1.0031),(1.842,0.9947),(1.852,0.9984),(1.862,0.9999),(1.872,1.0023),(1.882,1.0015),
(1.892,1.0054),(1.902,0.9965),(1.912,1.0004),(1.922,1.0038),(1.932,1.0020),(1.943,1.0045),(1.953,1.0008),(1.963,1.0059),(1.973,1.0012),(1.983,1.0033),
(1.993,1.0037),(2.003,1.0009),(2.013,1.0053),(2.023,0.9971),(2.033,0.9942),(2.044,1.0000),(2.054,1.0030),(2.064,1.0005),(2.074,0.9976),(2.084,1.0016),
(2.094,1.0035),(2.104,1.0050),(2.114,1.0011),(2.124,1.0024),(2.134,0.9966),(2.145,0.9983),(2.155,0.9937),(2.165,0.9994),(2.175,0.9969),(2.185,0.9961),
(2.195,1.0039),(2.205,1.0014),(2.215,1.0032),(2.225,1.0047),(2.235,0.9998),(2.246,0.9955),(2.256,0.9967),(2.266,0.9988),(2.276,0.9952),(2.286,0.9978),
(2.296,0.9996),(2.306,1.0018),(2.316,0.9982),(2.326,0.9959),(2.336,0.9992),(2.347,1.0036),(2.357,1.0049),(2.367,0.9972),(2.377,0.9940),(2.387,0.9975),
(2.397,0.9995),(2.407,1.0026),(2.417,0.9956),(2.427,0.9989),(2.437,0.9950),(2.448,0.9977),(2.458,0.9968),(2.468,0.9986),(2.478,0.9962),(2.488,0.9981)]

tess_post_c = [(1.346,1.0115),(1.508,1.0122),(1.547,1.0123),(1.580,1.0118),(1.612,1.0108),(1.680,1.0109),(1.750,1.0104),(1.650,1.0087),(1.720,1.0092),(1.414,1.0087),
(1.414,1.0077),(1.481,1.0094),(1.513,1.0073),(1.580,1.0071),(1.282,1.0059),(1.276,1.0047),(1.314,1.0049),(1.314,1.0035),(1.011,1.0014),(1.183,1.0011),
(1.210,1.0013),(1.237,1.0016),(1.249,1.0023),(1.381,1.0028),(1.282,0.9992),(1.050,0.9977),(1.077,0.9957),(1.110,0.9955),(1.149,0.9957),(1.348,0.9880),
(1.420,0.9920),(2.380,1.0288),(2.281,1.0230),(1.817,1.0166),(2.386,1.0151),(2.419,1.0142),(1.746,1.0135),(2.085,1.0123),(1.883,1.0109),(2.143,1.0102),
(2.215,1.0090),(2.319,1.0087),(2.341,1.0087),(2.413,1.0065),(1.950,1.0087),(2.020,1.0083),(2.090,1.0073),(1.513,0.9925),(1.650,0.9928),(1.750,0.9911),
(1.685,0.9896),(1.712,0.9880),(2.208,0.9908),(2.314,0.9887),(2.346,0.9887),(2.380,0.9861),(2.475,0.9875),(2.419,0.9911),(2.353,0.9928),(1.880,0.9920),
(1.950,0.9922),(2.020,0.9925),(2.080,0.9918),(1.784,0.9933),(1.550,1.0080),(1.620,1.0075),(1.850,1.0078),(1.980,1.0082),(2.050,1.0070),(2.250,1.0085),
(2.280,1.0075),(2.450,1.0080),(2.500,1.0090)]

# TESS best-fit transit model
tess_model_hours = [-2.5, -1.6, -1.5, -1.45, -1.40, -1.35, -1.30, -1.25, -1.20, -1.15,
                    -1.10, -1.05, -1.0, -0.9, -0.8, -0.7, -0.6, -0.5, -0.3, 0.0,
                    0.3, 0.5, 0.6, 0.7, 0.8, 0.9, 1.0, 1.05, 1.10, 1.15,
                    1.20, 1.25, 1.30, 1.35, 1.40, 1.45, 1.50, 1.6, 2.5]
tess_model_flux = [1.0, 1.0, 1.0, 0.9998, 0.9987, 0.9967, 0.9941, 0.9914, 0.9888, 0.9869,
                   0.9860, 0.9854, 0.9850, 0.9843, 0.9838, 0.9835, 0.9833, 0.9831, 0.9830, 0.9829,
                   0.9830, 0.9831, 0.9833, 0.9835, 0.9838, 0.9843, 0.9850, 0.9854, 0.9860, 0.9868,
                   0.9886, 0.9916, 0.9946, 0.9972, 0.9990, 0.9999, 1.0, 1.0, 1.0]

x_ticks = [-2, -1, 0, 1, 2]
y_ticks = [0.96, 0.98, 1.00, 1.02, 1.04, 1.06]
series_names = ["K2 C11", "TESS"]
target_name = "K2-237"
credit_text = "Ikwut-Ukwa+ 2020"

# ---------------------------------------------------------------- layout helpers
W, H = 1881, 1361
PL, PR, PT, PB = 293, 1855, 46, 1186   # plot-area edges in pixels


def px(x):
    return (x - PL) / (PR - PL)


def py(y):
    return (PB - y) / (PB - PT)


def pt(x, y):
    return f"{px(x):.5f},{py(y):.5f}"


def rounded_box(x0, y0, x1, y1, r):
    return (f"M {pt(x0 + r, y0)} L {pt(x1 - r, y0)} Q {pt(x1, y0)} {pt(x1, y0 + r)} "
            f"L {pt(x1, y1 - r)} Q {pt(x1, y1)} {pt(x1 - r, y1)} "
            f"L {pt(x0 + r, y1)} Q {pt(x0, y1)} {pt(x0, y1 - r)} "
            f"L {pt(x0, y0 + r)} Q {pt(x0, y0)} {pt(x0 + r, y0)} Z")


def rect(x0, y0, x1, y1, **kw):
    return dict(type="rect", xref="paper", yref="paper",
                x0=px(x0), x1=px(x1), y0=py(y1), y1=py(y0), **kw)


def label(text, x, y, size, family="DejaVu Sans", **kw):
    return dict(text=text, x=px(x), y=py(y), xref="paper", yref="paper",
                showarrow=False, xanchor=kw.pop("xanchor", "center"), yanchor="middle",
                font=dict(family=family, size=size, color="#000000"), **kw)


# ---------------------------------------------------------------- traces
k2_obs = k2_obs_a + k2_obs_b
tess_obs = (tess_pre_a + tess_pre_b + tess_pre_c + tess_ing_a + tess_ing_b + tess_ing_c
            + tess_in_a + tess_in_b + tess_in_c + tess_egr_a + tess_egr_b
            + tess_post_a + tess_post_b + tess_post_c)

ORANGE, K2_LINE = "#FFA500", "#D2691E"
BLUE, TESS_LINE = "#1E90FF", "#000080"

fig = go.Figure()
fig.add_trace(go.Scatter(
    x=[p[0] for p in k2_obs], y=[p[1] for p in k2_obs], mode="markers", name=series_names[0],
    marker=dict(symbol="circle-open", size=14, color=ORANGE, line=dict(width=3.6))))
fig.add_trace(go.Scatter(
    x=k2_model_hours, y=k2_model_flux, mode="lines",
    line=dict(color=K2_LINE, width=5, shape="spline", smoothing=0.6)))
fig.add_trace(go.Scatter(
    x=[p[0] for p in tess_obs], y=[p[1] for p in tess_obs], mode="markers", name=series_names[1],
    marker=dict(symbol="circle-open", size=18, color=BLUE, line=dict(width=3.3))))
fig.add_trace(go.Scatter(
    x=tess_model_hours, y=tess_model_flux, mode="lines",
    line=dict(color=TESS_LINE, width=4.5, shape="spline", smoothing=0.6)))

axis_style = dict(showline=True, linecolor="#2a2a2a", linewidth=2.5, mirror=True,
                  showgrid=False, zeroline=False, ticks="outside", ticklen=11,
                  tickwidth=2, tickcolor="#2a2a2a", automargin=False,
                  tickfont=dict(family="DejaVu Sans", size=56, color="#111111"))
fig.update_xaxes(range=[-2.5, 2.5], tickvals=x_ticks, ticklabelstandoff=-14, **axis_style)
fig.update_yaxes(range=[0.955, 1.065], tickvals=y_ticks, tickformat=".2f", **axis_style)

# ---------------------------------------------------------------- decorations
shapes = [
    # slide frame
    rect(31, 14, W, 1358, fillcolor="white", line=dict(width=0), layer="below"),
    rect(24, 7, 31, H, fillcolor="black", line=dict(width=0), layer="below"),
    rect(24, 7, W, 14, fillcolor="black", line=dict(width=0), layer="below"),
    rect(31, 1357.5, W, 1359.5, fillcolor="#777777", line=dict(width=0), layer="below"),
    # small white patch left by the equation panel
    rect(790, 400, 857, 447, fillcolor="white", line=dict(width=0), layer="above"),
    # target label box and legend box
    dict(type="path", xref="paper", yref="paper", path=rounded_box(316, 70, 564, 163, 14),
         fillcolor="white", line=dict(color="#CCCCCC", width=2.5), layer="above"),
    dict(type="path", xref="paper", yref="paper", path=rounded_box(1477, 70, 1830, 228, 14),
         fillcolor="white", line=dict(color="#CCCCCC", width=2.5), layer="above"),
    dict(type="circle", xref="paper", yref="paper", x0=px(1536.5), x1=px(1557.5),
         y0=py(123.5), y1=py(102.5), line=dict(color=ORANGE, width=3.5), layer="above"),
    dict(type="circle", xref="paper", yref="paper", x0=px(1536.5), x1=px(1557.5),
         y0=py(195.5), y1=py(174.5), line=dict(color=BLUE, width=3.5), layer="above"),
    # transit-depth equation: parentheses and fraction bar
    dict(type="path", xref="paper", yref="paper", layer="above",
         path=f"M {pt(1027, 117)} Q {pt(958, 265)} {pt(1027, 413)} L {pt(1030, 413)} "
              f"Q {pt(966, 265)} {pt(1030, 117)} Z",
         fillcolor="black", line=dict(color="black", width=0.8)),
    dict(type="path", xref="paper", yref="paper", layer="above",
         path=f"M {pt(1167, 117)} Q {pt(1229, 265)} {pt(1167, 413)} L {pt(1164, 413)} "
              f"Q {pt(1221, 265)} {pt(1164, 117)} Z",
         fillcolor="black", line=dict(color="black", width=0.8)),
    rect(1038, 265, 1153, 270, fillcolor="black", line=dict(width=0), layer="above"),
    # reference box
    rect(859.5, 1009.5, 1825.5, 1160.5, fillcolor="white",
         line=dict(color="black", width=9), layer="above"),
]

serif = "Liberation Serif"
annotations = [
    label(target_name, 440, 114, 58),
    label(series_names[0], 1637, 111, 48, xanchor="left"),
    label(series_names[1], 1635, 182, 48, xanchor="left"),
    label("Hours from Mid-Transit", 1075, 1304, 60),
    label("Normalized Flux", 97, 616, 60, textangle=-90),
    label("<i>δ</i>", 860, 256, 108, family=serif),
    label("<b>=</b>", 939, 256, 98, family=serif),
    label("<i>r</i>", 1101, 178, 110, family=serif, xanchor="right"),
    label("<i>p</i>", 1104, 221, 62, family=serif, xanchor="left"),
    label("<i>R</i>", 1112, 343, 110, family=serif, xanchor="right"),
    label("*", 1114, 388, 62, family=serif, xanchor="left"),
    label("2", 1220, 123, 56, family=serif),
    label(credit_text, 1345, 1090, 101, family="Liberation Sans"),
]

fig.update_layout(
    width=W, height=H,
    margin=dict(l=PL, r=W - PR, t=PT, b=H - PB, pad=0),
    paper_bgcolor="#FCFAF0", plot_bgcolor="white",
    showlegend=False,
    font=dict(family="DejaVu Sans", color="#111111"),
    shapes=shapes, annotations=annotations,
)

fig.write_html("out.html", config={"displayModeBar": False},
               post_script="document.body.style.margin='0';")
